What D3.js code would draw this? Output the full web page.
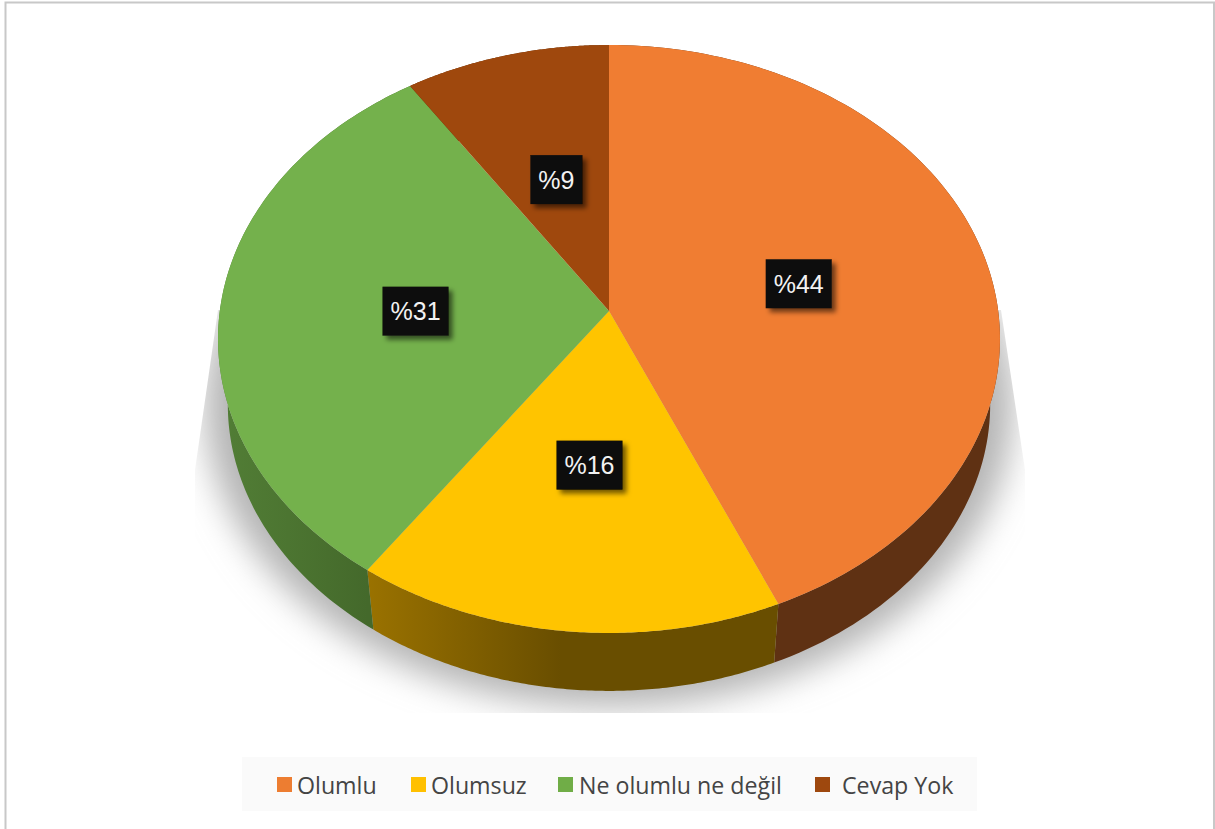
<!DOCTYPE html>
<html>
<head>
<meta charset="utf-8">
<script src="https://cdn.jsdelivr.net/npm/d3@7"></script>
<style>
  html, body { margin: 0; padding: 0; background: #fff; }
  svg { display: block; }
</style>
</head>
<body>
<div class="root"></div>
<script>
const categories = ['Olumlu', 'Olumsuz', 'Ne olumlu ne değil', 'Cevap Yok'];
const values = [43.5, 16.2, 31.0, 9.3];
const topColors = ['#f07d32', '#ffc400', '#74b14c', '#9f480d'];
const legendColors = ['#ed7d31', '#ffc000', '#70ad47', '#9e480e'];
const wallColors = [
  ['#5f3113', '#5f3113', '#5f3113'],
  ['#9a7200', '#694e00', '#694e00'],
  ['#527e36', '#4c7531', '#44692b'],
  ['#5f2b08', '#5f2b08', '#5f2b08']
];
const wallStops = [0, 0.47, 1];

const svgWidth = 1215;
const svgHeight = 829;

const svg = d3.select('.root')
  .append('svg')
  .attr('width', svgWidth)
  .attr('height', svgHeight);

// the pie is tilted with perspective, so the slices meet above the ellipse centre
const apex = { x: 609, y: 311 };
const radiusX = 389.2;
const radiusY = 291.3;
const tilt = -0.0952;
const depth = 66;
const bottomScale = 0.975;

const project = (angle, r) => {
  const u = r * Math.sin(angle);
  const v = -r * Math.cos(angle);
  const d = 1 + tilt * v;
  return [apex.x + radiusX * u / d, apex.y + radiusY * v / d];
};
const projectBottom = (angle) => {
  const p = project(angle, 1);
  return [apex.x + bottomScale * (p[0] - apex.x), apex.y + depth + bottomScale * (p[1] - apex.y)];
};

const pie = d3.pie().sort(null).value(d => d);
const slices = pie(values);
const line = d3.line();
const arcCentroid = d3.arc().innerRadius(0).outerRadius(1);

const sample = (s) => d3.range(0, 121).map(i => s.startAngle + (s.endAngle - s.startAngle) * i / 120);

const defs = svg.append('defs');

defs.append('filter')
  .attr('id', 'floorBlur')
  .attr('x', '-20%').attr('y', '-20%').attr('width', '140%').attr('height', '140%')
  .append('feGaussianBlur')
  .attr('stdDeviation', 17);

const labelShadow = defs.append('filter')
  .attr('id', 'labelShadow')
  .attr('x', '-30%').attr('y', '-30%').attr('width', '160%').attr('height', '160%');
labelShadow.append('feDropShadow')
  .attr('dx', 4).attr('dy', 4)
  .attr('stdDeviation', 2.5)
  .attr('flood-color', '#000')
  .attr('flood-opacity', 0.55);

defs.append('clipPath')
  .attr('id', 'floorClip')
  .append('path')
  .attr('d', 'M218,310L1001,310L1025,470L1025,713L195,713L195,470Z');

slices.forEach((s, i) => {
  const xs = d3.extent(sample(s).filter(a => Math.cos(a) < 0.2).map(a => project(a, 1)[0]));
  const g = defs.append('linearGradient')
    .attr('id', 'wall' + i)
    .attr('gradientUnits', 'userSpaceOnUse')
    .attr('x1', xs[0]).attr('x2', xs[1])
    .attr('y1', 0).attr('y2', 0);
  wallStops.forEach((o, j) => {
    g.append('stop').attr('offset', o).attr('stop-color', wallColors[i][j]);
  });
});

// page frame
svg.append('path')
  .attr('d', `M5.5,${svgHeight}V2.5H1214V${svgHeight}`)
  .attr('fill', 'none')
  .attr('stroke', '#c8c8c8')
  .attr('stroke-width', 2);

// shadow on the floor
svg.append('g')
  .attr('clip-path', 'url(#floorClip)')
  .append('ellipse')
  .attr('cx', apex.x)
  .attr('cy', 405)
  .attr('rx', 404)
  .attr('ry', 302)
  .attr('fill', '#b4b4b4')
  .attr('filter', 'url(#floorBlur)');

// side walls first, the top faces cover the part that is hidden
svg.append('g')
  .selectAll('path')
  .data(slices)
  .enter()
  .append('path')
  .attr('fill', (d, i) => `url(#wall${i})`)
  .attr('d', d => {
    const angles = sample(d);
    const pts = angles.map(a => project(a, 1)).concat(angles.slice().reverse().map(projectBottom));
    return line(pts) + 'Z';
  });

svg.append('g')
  .selectAll('path')
  .data(slices)
  .enter()
  .append('path')
  .attr('fill', (d, i) => topColors[i])
  .attr('d', d => {
    const pts = [[apex.x, apex.y]].concat(sample(d).map(a => project(a, 1)));
    return line(pts) + 'Z';
  });

// data labels at the slice centroids
const labels = svg.append('g')
  .selectAll('g')
  .data(slices)
  .enter()
  .append('g')
  .attr('transform', d => {
    const c = arcCentroid.centroid(d);
    const angle = Math.atan2(c[0], -c[1]);
    const p = project(angle, 0.5);
    return `translate(${p[0] + 1},${p[1] + 2})`;
  });

labels.append('text')
  .attr('text-anchor', 'middle')
  .attr('y', 9)
  .attr('fill', '#f2f2f2')
  .style('font-family', '"Liberation Sans", Arial, sans-serif')
  .style('font-size', '25px')
  .text(d => '%' + Math.round(d.value))
  .each(function (d) { d.labelWidth = this.getComputedTextLength(); });

labels.insert('rect', 'text')
  .attr('x', d => -d.labelWidth / 2 - 8)
  .attr('y', -24.5)
  .attr('width', d => d.labelWidth + 16)
  .attr('height', 49)
  .attr('fill', '#0b0b0b')
  .attr('filter', 'url(#labelShadow)');

// legend
const legend = svg.append('g');
legend.append('rect')
  .attr('x', 242).attr('y', 757)
  .attr('width', 735).attr('height', 54)
  .attr('fill', '#fafafa');

const legendX = d3.scaleOrdinal().domain(categories).range([277, 411, 558, 815]);
const legendTextGap = d3.scaleOrdinal().domain(categories).range([20, 20, 21, 27]);

const items = legend.selectAll('g')
  .data(categories)
  .enter()
  .append('g')
  .attr('transform', d => `translate(${legendX(d)},777)`);

items.append('rect')
  .attr('width', 15)
  .attr('height', 15)
  .attr('fill', (d, i) => legendColors[i]);

items.append('text')
  .attr('x', d => legendTextGap(d))
  .attr('y', 17)
  .attr('fill', '#444')
  .style('font-family', '"Open Sans", sans-serif')
  .style('font-size', '23.2px')
  .text(d => d);
</script>
</body>
</html>
